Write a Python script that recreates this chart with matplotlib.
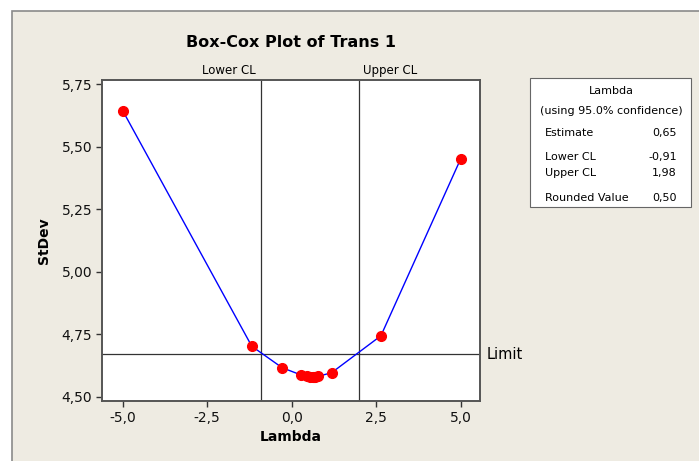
import matplotlib
matplotlib.use('Agg')
import matplotlib.pyplot as plt
from matplotlib.patches import Rectangle
from matplotlib.ticker import FuncFormatter
import matplotlib.transforms as mtransforms

# lambda values tried by the search and the resulting standard deviation
lambdas = [-5.0, -1.18, -0.28, 0.28, 0.46, 0.55, 0.62, 0.65, 0.70, 0.79, 1.18, 2.64, 5.0]
stdevs = [5.645, 4.702, 4.616, 4.587, 4.582, 4.580, 4.580, 4.580, 4.580, 4.582, 4.596, 4.744, 5.452]

lower_cl = -0.91
upper_cl = 1.98
limit = 4.671

x_ticks = [-5.0, -2.5, 0.0, 2.5, 5.0]
y_ticks = [4.50, 4.75, 5.00, 5.25, 5.50, 5.75]

# summary table on the right
table_rows = [("Estimate", "0,65"), ("Lower CL", "-0,91"), ("Upper CL", "1,98"), ("Rounded Value", "0,50")]

W, H = 699, 461
bg = '#eeebe2'
edge = '#555555'

def px(x, y):
    # pixel position -> figure fraction
    return x / W, 1 - y / H

fig = plt.figure(figsize=(W / 100, H / 100), dpi=100, facecolor='white')

# beige panel with a grey border
fig.patches.append(Rectangle(px(12, 470), 1.0, (470 - 11) / H, transform=fig.transFigure,
                             facecolor=bg, edgecolor='#8a8a8a', linewidth=1.2, zorder=-10))

ax = fig.add_axes([102 / W, 1 - 401 / H, (480 - 102) / W, (401 - 80) / H])
ax.set_facecolor('white')

ax.plot(lambdas, stdevs, color='blue', linewidth=1.0, zorder=3)
ax.plot(lambdas, stdevs, linestyle='none', marker='o', markersize=7,
        color='red', markeredgecolor='red', zorder=4)

ax.axvline(lower_cl, color='#333333', linewidth=0.9, zorder=2)
ax.axvline(upper_cl, color='#333333', linewidth=0.9, zorder=2)
ax.axhline(limit, color='#333333', linewidth=0.9, zorder=2)

ax.set_xlim(-5.61, 5.57)
ax.set_ylim(4.483, 5.767)
ax.set_xticks(x_ticks)
ax.set_yticks(y_ticks)
ax.xaxis.set_major_formatter(FuncFormatter(lambda v, p: f'{v:.1f}'.replace('.', ',')))
ax.yaxis.set_major_formatter(FuncFormatter(lambda v, p: f'{v:.2f}'.replace('.', ',')))
ax.tick_params(direction='out', length=4, width=1, color='#333333', labelsize=10,
               labelcolor='#111111', pad=3)

for s in ax.spines.values():
    s.set_color(edge)
    s.set_linewidth(1.4)

ax.set_xlabel('Lambda', fontsize=10, fontweight='bold', labelpad=4)
ax.set_ylabel('StDev', fontsize=10, fontweight='bold', labelpad=8)
ax.set_title('Box-Cox Plot of Trans 1', fontsize=11.5, fontweight='bold', pad=24)

# confidence limit labels above the plot
trans = mtransforms.blended_transform_factory(ax.transData, ax.transAxes)
ax.annotate('Lower CL', xy=(lower_cl, 1.0), xycoords=trans, xytext=(-4, 2),
            textcoords='offset points', ha='right', va='bottom', fontsize=8.5)
ax.annotate('Upper CL', xy=(upper_cl, 1.0), xycoords=trans, xytext=(3, 2),
            textcoords='offset points', ha='left', va='bottom', fontsize=8.5)

ltrans = mtransforms.blended_transform_factory(ax.transAxes, ax.transData)
ax.annotate('Limit', xy=(1.0, limit), xycoords=ltrans, xytext=(5, 0),
            textcoords='offset points', ha='left', va='center', fontsize=10.5)

# lambda summary box
x0, y0 = px(530, 207)
x1, y1 = px(691, 78)
fig.patches.append(Rectangle((x0, y0), x1 - x0, y1 - y0, transform=fig.transFigure,
                             facecolor='white', edgecolor='#666666', linewidth=0.8))
fig.text(*px(611, 91), 'Lambda', ha='center', va='center', fontsize=8)
fig.text(*px(611, 111), '(using 95.0% confidence)', ha='center', va='center', fontsize=8)
row_y = [133, 157, 173, 198]
for (name, val), y in zip(table_rows, row_y):
    fig.text(*px(545, y), name, ha='left', va='center', fontsize=8)
    fig.text(*px(677, y), val, ha='right', va='center', fontsize=8)

fig.savefig('out.png', dpi=100, facecolor=fig.get_facecolor())
